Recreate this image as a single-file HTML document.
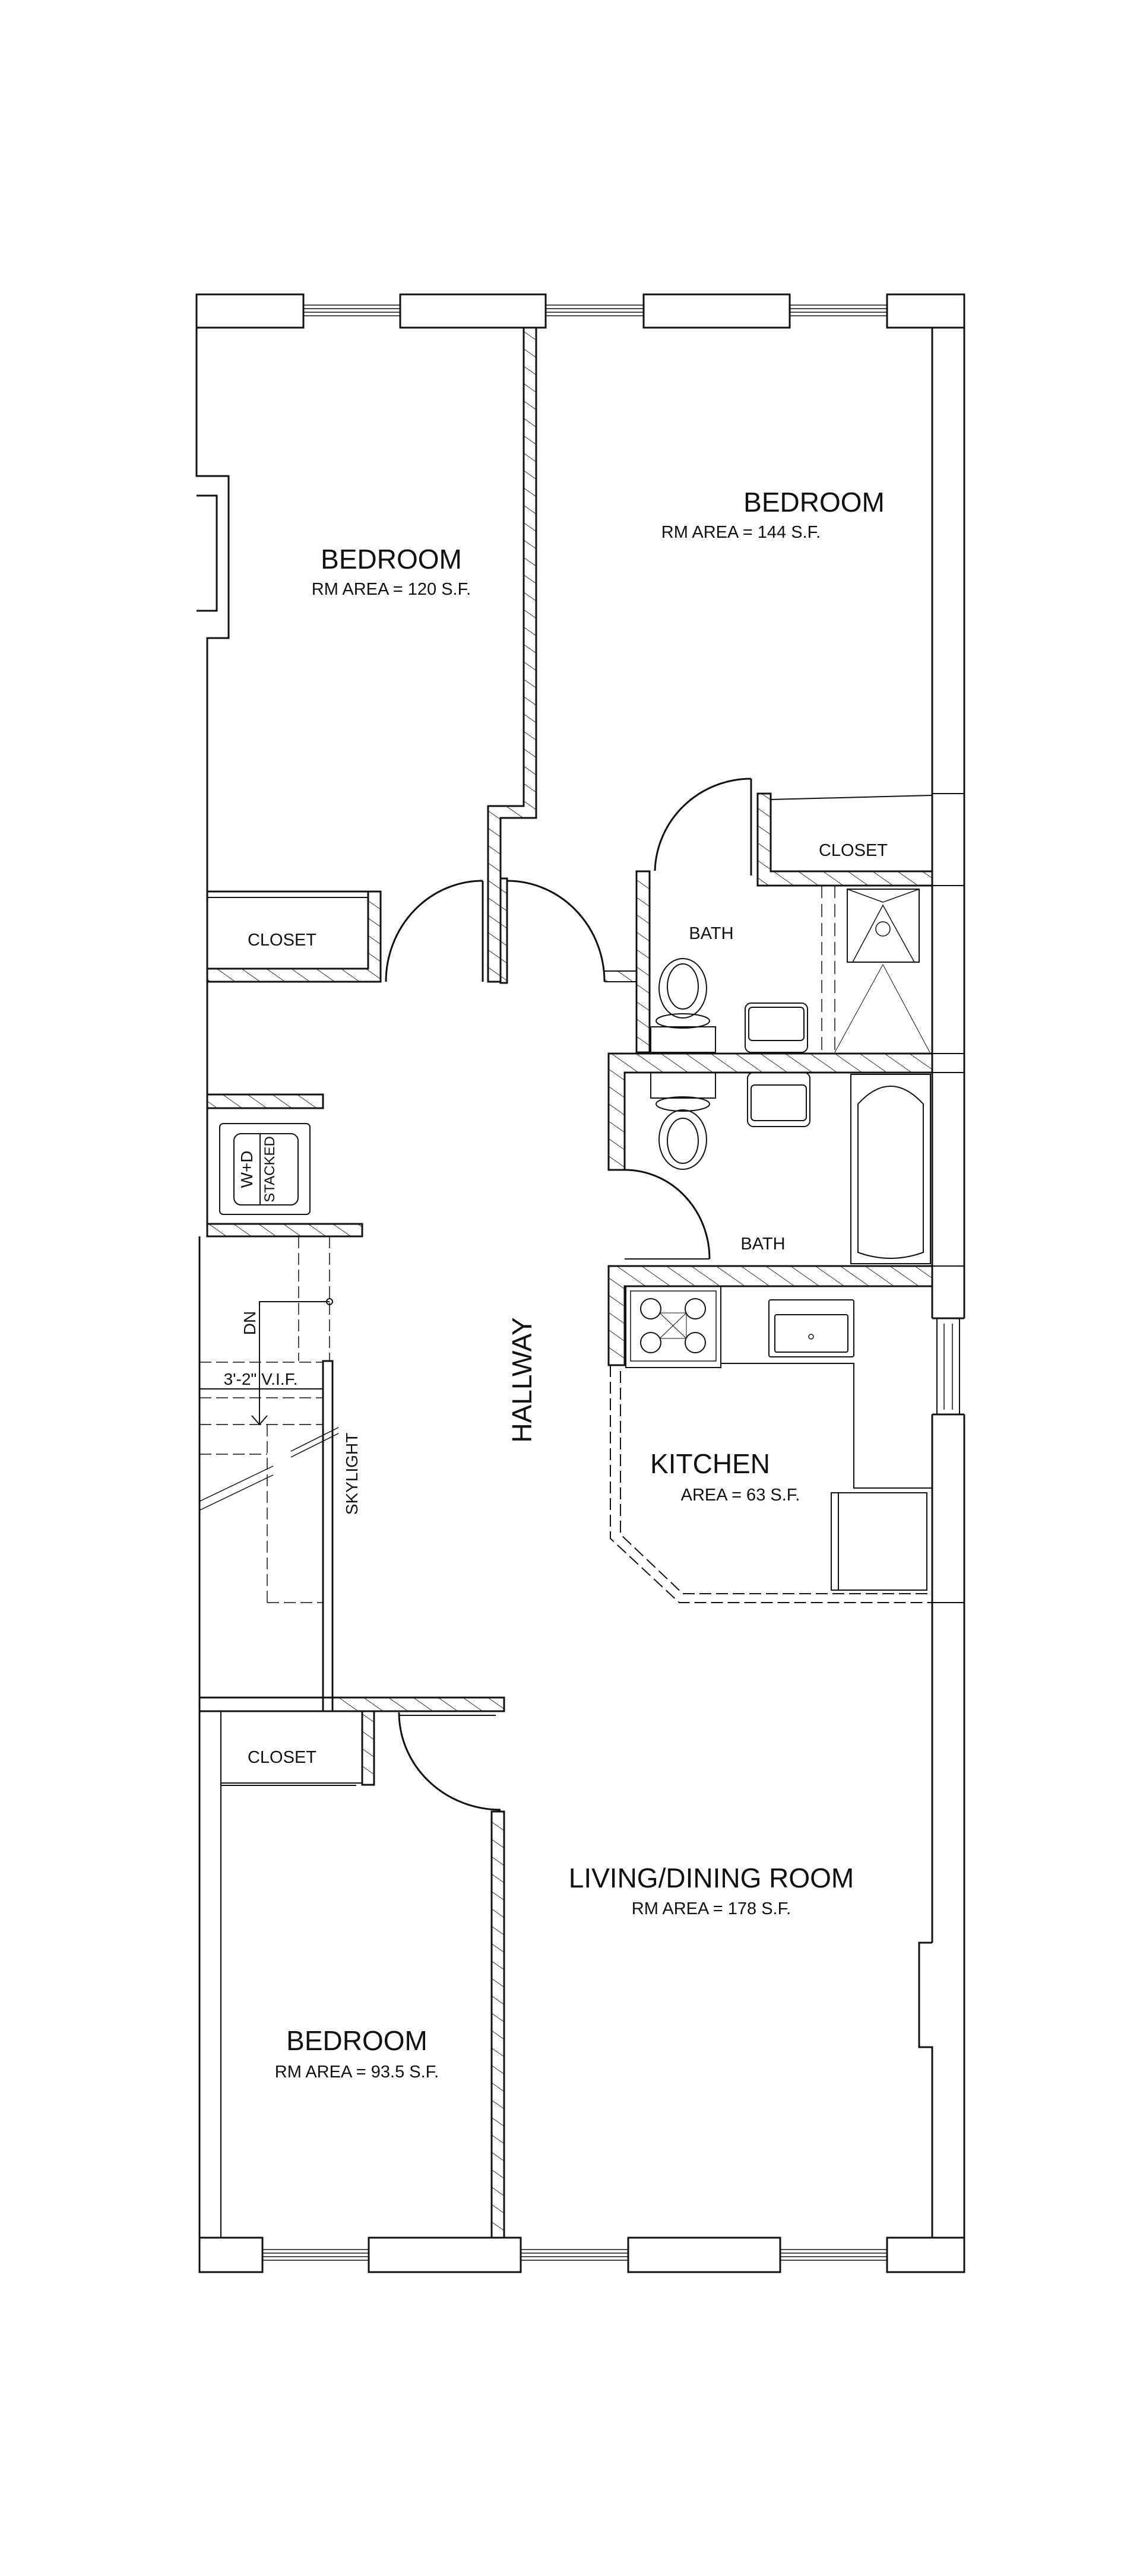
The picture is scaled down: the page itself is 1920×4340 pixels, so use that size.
<!DOCTYPE html>
<html><head><meta charset="utf-8"><style>
html,body{margin:0;padding:0;background:#fff}
svg{display:block}
text{font-family:"Liberation Sans Narrow","Liberation Sans",sans-serif;fill:#111}
</style></head><body>
<svg width="1920" height="4340" viewBox="0 0 1920 4340" xmlns="http://www.w3.org/2000/svg">
<defs>
<pattern id="h" patternUnits="userSpaceOnUse" width="24" height="24" patternTransform="rotate(-55)">
<line x1="0" y1="0" x2="0" y2="24" stroke="#333" stroke-width="2"/>
</pattern>
</defs>
<g fill="none" stroke="#111" stroke-width="3">
<!-- top windows -->
<rect x="331" y="496" width="180" height="56" fill="#fff"/>
<rect x="674" y="496" width="245" height="56" fill="#fff"/>
<rect x="1084" y="496" width="246" height="56" fill="#fff"/>
<rect x="1494" y="496" width="130" height="56" fill="#fff"/>
<g stroke-width="1.5">
<line x1="511" y1="514" x2="674" y2="514"/><line x1="511" y1="520" x2="674" y2="520"/><line x1="511" y1="526" x2="674" y2="526"/><line x1="511" y1="532" x2="674" y2="532"/>
<line x1="919" y1="514" x2="1084" y2="514"/><line x1="919" y1="520" x2="1084" y2="520"/><line x1="919" y1="526" x2="1084" y2="526"/><line x1="919" y1="532" x2="1084" y2="532"/>
<line x1="1330" y1="514" x2="1494" y2="514"/><line x1="1330" y1="520" x2="1494" y2="520"/><line x1="1330" y1="526" x2="1494" y2="526"/><line x1="1330" y1="532" x2="1494" y2="532"/>
</g>
<!-- bottom windows -->
<rect x="336" y="3770" width="106" height="58" fill="#fff"/>
<rect x="621" y="3770" width="256" height="58" fill="#fff"/>
<rect x="1058" y="3770" width="256" height="58" fill="#fff"/>
<rect x="1494" y="3770" width="130" height="58" fill="#fff"/>
<g stroke-width="1.5">
<line x1="442" y1="3790" x2="621" y2="3790"/><line x1="442" y1="3796" x2="621" y2="3796"/><line x1="442" y1="3802" x2="621" y2="3802"/><line x1="442" y1="3808" x2="621" y2="3808"/>
<line x1="877" y1="3790" x2="1058" y2="3790"/><line x1="877" y1="3796" x2="1058" y2="3796"/><line x1="877" y1="3802" x2="1058" y2="3802"/><line x1="877" y1="3808" x2="1058" y2="3808"/>
<line x1="1314" y1="3790" x2="1494" y2="3790"/><line x1="1314" y1="3796" x2="1494" y2="3796"/><line x1="1314" y1="3802" x2="1494" y2="3802"/><line x1="1314" y1="3808" x2="1494" y2="3808"/>
</g>
<!-- right walls -->
<line x1="1624" y1="496" x2="1624" y2="2221"/>
<line x1="1624" y1="2383" x2="1624" y2="3828"/>
<line x1="1570" y1="552" x2="1570" y2="2221"/>
<line x1="1570" y1="2383" x2="1570" y2="3273"/>
<polyline points="1570,3273 1548,3273 1548,3449 1570,3449 1570,3770"/>
<rect x="1578" y="2221" width="38" height="162" stroke-width="2"/>
<line x1="1590" y1="2230" x2="1590" y2="2375" stroke-width="1.5"/><line x1="1604" y1="2230" x2="1604" y2="2375" stroke-width="1.5"/>
<line x1="1570" y1="2221" x2="1624" y2="2221"/><line x1="1570" y1="2383" x2="1624" y2="2383"/>
<line x1="1570" y1="1337" x2="1624" y2="1337" stroke-width="2"/><line x1="1570" y1="1492" x2="1624" y2="1492" stroke-width="2"/>
<line x1="1570" y1="1775" x2="1624" y2="1775" stroke-width="2"/><line x1="1570" y1="1807" x2="1624" y2="1807" stroke-width="2"/>
<line x1="1570" y1="2133" x2="1624" y2="2133" stroke-width="2"/><line x1="1570" y1="2700" x2="1624" y2="2700" stroke-width="2"/>
<!-- left upper wall -->
<polyline points="331,552 331,802 385,802 385,1075 349,1075 349,2083"/>
<polyline points="331,835 365,835 365,1029 331,1029"/>
<!-- bedroom divider wall -->
<path d="M882,552 V1358 H822 V1654 H843 V1378 H903 V552" fill="url(#h)"/>
<!-- left closet -->
<line x1="349" y1="1502" x2="620" y2="1502"/><line x1="349" y1="1512" x2="620" y2="1512" stroke-width="2"/>
<path d="M620,1502 H641 V1654 H349 V1632 H620 Z" fill="url(#h)"/>
<!-- double doors -->
<path d="M650,1654 A163,170 0 0 1 813,1484" />
<line x1="813" y1="1484" x2="813" y2="1654"/>
<path d="M1018,1654 A164,170 0 0 0 854,1484"/>
<line x1="854" y1="1484" x2="854" y2="1654"/>
<rect x="843" y="1480" width="11" height="176" fill="url(#h)"/>
<path d="M1018,1654 H1072 V1636 H1018" fill="url(#h)" stroke-width="2"/>
<!-- bath upper left wall -->
<path d="M1072,1468 H1094 V1773 H1072 Z" fill="url(#h)"/>
<path d="M1103,1467 A162,160 0 0 1 1265,1312" />
<line x1="1265" y1="1312" x2="1265" y2="1475"/>
<!-- closet right -->
<path d="M1276,1337 H1298 V1468 H1570 V1492 H1276 Z" fill="url(#h)"/>
<line x1="1298" y1="1347" x2="1570" y2="1340" stroke-width="2"/>
<!-- shower -->
<rect x="1427" y="1498" width="121" height="123" stroke-width="2"/>
<polyline points="1427,1498 1487,1520 1548,1498" stroke-width="1.5"/>
<polyline points="1436,1621 1487,1525 1540,1621" stroke-width="1.5"/>
<circle cx="1487" cy="1565" r="12" stroke-width="1.5"/>
<line x1="1384" y1="1491" x2="1384" y2="1773" stroke-width="1.5" stroke-dasharray="22,10"/>
<line x1="1406" y1="1491" x2="1406" y2="1773" stroke-width="1.5" stroke-dasharray="22,10"/>
<polyline points="1406,1773 1487,1625 1566,1773" stroke-width="1"/>
<!-- upper toilet + sink -->
<rect x="1096" y="1730" width="109" height="43" stroke-width="2"/>
<ellipse cx="1150" cy="1720" rx="45" ry="12" stroke-width="2"/>
<ellipse cx="1150" cy="1665" rx="40" ry="50" stroke-width="2"/>
<ellipse cx="1150" cy="1662" rx="26" ry="38" stroke-width="2"/>
<rect x="1255" y="1690" width="105" height="83" rx="10" stroke-width="2"/>
<rect x="1261" y="1697" width="93" height="56" rx="6" stroke-width="2"/>
<!-- bath/bath hatched wall -->
<path d="M1025,1775 H1570 V1807 H1052 V1971 H1025 Z" fill="url(#h)"/>
<!-- lower bath fixtures -->
<rect x="1096" y="1807" width="109" height="43" stroke-width="2"/>
<ellipse cx="1150" cy="1860" rx="45" ry="12" stroke-width="2"/>
<ellipse cx="1150" cy="1920" rx="40" ry="50" stroke-width="2"/>
<ellipse cx="1150" cy="1922" rx="26" ry="38" stroke-width="2"/>
<rect x="1259" y="1807" width="105" height="91" rx="10" stroke-width="2"/>
<rect x="1265" y="1828" width="93" height="60" rx="6" stroke-width="2"/>
<rect x="1433" y="1810" width="134" height="319" stroke-width="2"/>
<path d="M1445,2110 V1860 Q1500,1800 1555,1860 V2110 Q1500,2130 1445,2110 Z" stroke-width="2"/>
<!-- lower bath door -->
<path d="M1052,1971 A143,150 0 0 1 1195,2121"/>
<line x1="1052" y1="2121" x2="1195" y2="2121" stroke-width="2"/>
<!-- kitchen -->
<path d="M1025,2133 H1570 V2167 H1052 V2300 H1025 Z" fill="url(#h)"/>
<rect x="1054" y="2167" width="160" height="137" stroke-width="2"/>
<rect x="1062" y="2175" width="144" height="118" stroke-width="1.5"/>
<g stroke-width="2"><circle cx="1096" cy="2205" r="17"/><circle cx="1171" cy="2205" r="17"/><circle cx="1096" cy="2262" r="17"/><circle cx="1171" cy="2262" r="17"/>
<polyline points="1111,2212 1156,2212 1156,2255 1111,2255 Z" stroke-width="1"/>
<line x1="1111" y1="2212" x2="1156" y2="2255" stroke-width="1"/><line x1="1156" y1="2212" x2="1111" y2="2255" stroke-width="1"/></g>
<rect x="1295" y="2190" width="143" height="96" rx="3" stroke-width="2"/>
<rect x="1305" y="2215" width="123" height="63" rx="3" stroke-width="2"/>
<circle cx="1366" cy="2252" r="4" stroke-width="1.5"/>
<polyline points="1214,2297 1438,2297 1438,2507 1570,2507" stroke-width="2"/>
<rect x="1400" y="2515" width="161" height="164" stroke-width="2"/>
<line x1="1412" y1="2515" x2="1412" y2="2679" stroke-width="2"/>
<polyline points="1028,2300 1028,2592 1144,2700 1570,2700" stroke-width="2" stroke-dasharray="20,8"/>
<polyline points="1045,2310 1045,2585 1150,2685 1570,2685" stroke-width="2" stroke-dasharray="20,8"/>
<!-- W+D -->
<path d="M349,1844 H544 V1867 H349 Z" fill="url(#h)"/>
<rect x="370" y="1893" width="152" height="153" rx="6" stroke-width="2"/>
<rect x="394" y="1910" width="108" height="120" rx="12" stroke-width="2"/>
<line x1="438" y1="1910" x2="438" y2="2030" stroke-width="2"/>
<path d="M349,2062 H610 V2083 H349 Z" fill="url(#h)"/>
<!-- stair area -->
<line x1="336" y1="2083" x2="336" y2="3828"/>
<rect x="544" y="2293" width="16" height="590"/>
<line x1="503" y1="2083" x2="503" y2="2293" stroke-width="1.5" stroke-dasharray="20,8"/>
<line x1="555" y1="2083" x2="555" y2="2293" stroke-width="1.5" stroke-dasharray="20,8"/>
<polyline points="555,2193 437,2193 437,2398" stroke-width="2"/>
<circle cx="555" cy="2193" r="5" stroke-width="2"/>
<polyline points="424,2385 437,2400 450,2385" stroke-width="2"/>
<line x1="336" y1="2295" x2="544" y2="2295" stroke-width="1.5" stroke-dasharray="20,8"/>
<line x1="336" y1="2340" x2="544" y2="2340" stroke-width="2"/>
<line x1="336" y1="2355" x2="544" y2="2355" stroke-width="1.5" stroke-dasharray="20,8"/>
<line x1="336" y1="2400" x2="544" y2="2400" stroke-width="1.5" stroke-dasharray="20,8"/>
<line x1="336" y1="2450" x2="450" y2="2450" stroke-width="1.5" stroke-dasharray="20,8"/>
<line x1="450" y1="2400" x2="450" y2="2700" stroke-width="1.5" stroke-dasharray="20,8"/>
<line x1="450" y1="2700" x2="544" y2="2700" stroke-width="1.5" stroke-dasharray="20,8"/>
<line x1="335" y1="2530" x2="460" y2="2470" stroke-width="1.5"/><line x1="335" y1="2545" x2="460" y2="2485" stroke-width="1.5"/>
<line x1="490" y1="2455" x2="570" y2="2415" stroke-width="1.5"/><line x1="490" y1="2445" x2="570" y2="2405" stroke-width="1.5"/>
<!-- mid wall -->
<line x1="336" y1="2860" x2="560" y2="2860"/><line x1="336" y1="2883" x2="560" y2="2883"/>
<path d="M560,2860 H849 V2883 H560 Z" fill="url(#h)"/>
<!-- lower bedroom -->
<line x1="372" y1="2883" x2="372" y2="3770" stroke-width="2"/>
<line x1="372" y1="3004" x2="610" y2="3004" stroke-width="2"/><line x1="372" y1="3008" x2="600" y2="3008" stroke-width="2"/>
<path d="M610,2883 H630 V3007 H610 Z" fill="url(#h)"/>
<path d="M672,2885 A171,164 0 0 0 843,3049"/>
<line x1="672" y1="2890" x2="835" y2="2890" stroke-width="2"/>
<path d="M828,3052 H849 V3770 H828 Z" fill="url(#h)"/>
</g>
<!-- labels -->
<text x="659" y="958" font-size="46" text-anchor="middle">BEDROOM</text>
<text x="659" y="1002" font-size="29" text-anchor="middle">RM AREA = 120 S.F.</text>
<text x="1371" y="862" font-size="46" text-anchor="middle">BEDROOM</text>
<text x="1248" y="906" font-size="29" text-anchor="middle">RM AREA = 144 S.F.</text>
<text x="475" y="1593" font-size="29" text-anchor="middle">CLOSET</text>
<text x="1437" y="1442" font-size="29" text-anchor="middle">CLOSET</text>
<text x="1198" y="1582" font-size="29" text-anchor="middle">BATH</text>
<text x="1285" y="2105" font-size="29" text-anchor="middle">BATH</text>
<text x="1196" y="2482" font-size="46" text-anchor="middle">KITCHEN</text>
<text x="1247" y="2528" font-size="29" text-anchor="middle">AREA = 63 S.F.</text>
<text transform="translate(895,2325) rotate(-90)" font-size="46" text-anchor="middle">HALLWAY</text>
<text transform="translate(430,2229) rotate(-90)" font-size="28" text-anchor="middle">DN</text>
<text transform="translate(602,2483) rotate(-90)" font-size="28" text-anchor="middle">SKYLIGHT</text>
<text x="439" y="2333" font-size="28" text-anchor="middle">3'-2" V.I.F.</text>
<text transform="translate(425,1970) rotate(-90)" font-size="28" text-anchor="middle">W+D</text>
<text transform="translate(462,1970) rotate(-90)" font-size="24" text-anchor="middle">STACKED</text>
<text x="475" y="2970" font-size="29" text-anchor="middle">CLOSET</text>
<text x="1198" y="3180" font-size="46" text-anchor="middle">LIVING/DINING ROOM</text>
<text x="1198" y="3225" font-size="29" text-anchor="middle">RM AREA = 178 S.F.</text>
<text x="601" y="3454" font-size="46" text-anchor="middle">BEDROOM</text>
<text x="601" y="3500" font-size="29" text-anchor="middle">RM AREA = 93.5 S.F.</text>
</svg>
</body></html>
